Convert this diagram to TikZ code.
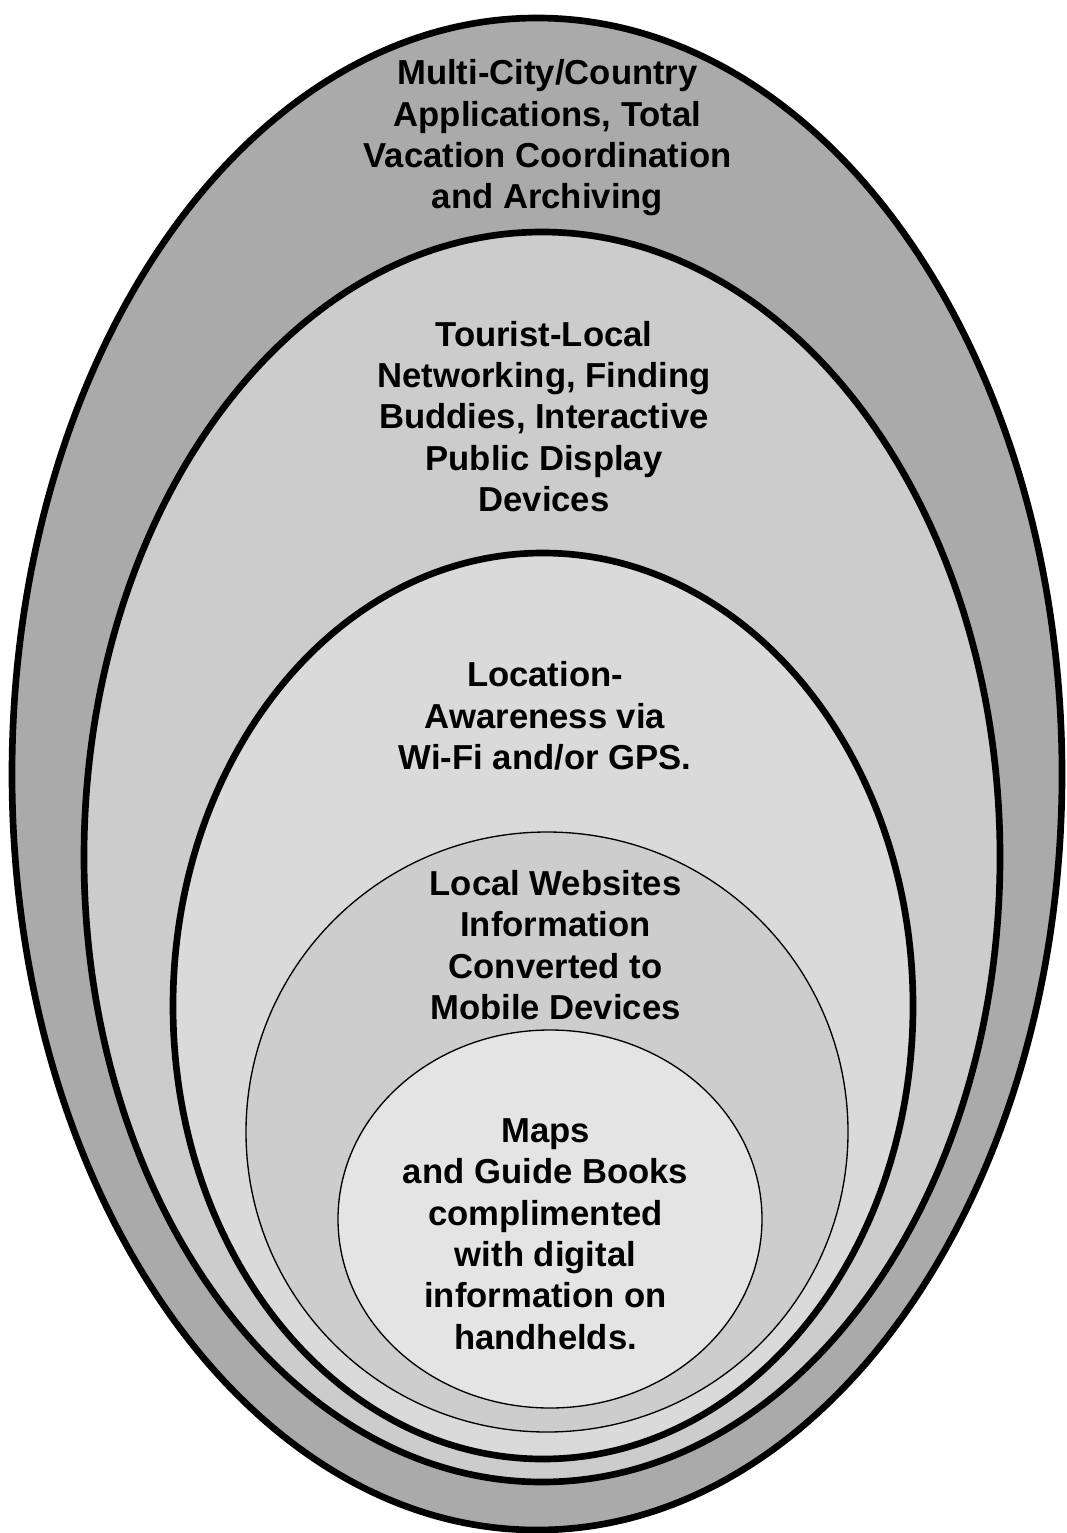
\documentclass[tikz,border=0pt]{standalone}
\usepackage{fontspec}
\setmainfont{Liberation Sans}

\tikzset{every picture/.style={line width=0.75pt}}
\tikzset{
  thickring/.style={color={rgb, 255:red, 0; green, 0; blue, 0 }, line width=5pt},
  thinring/.style={color={rgb, 255:red, 0; green, 0; blue, 0 }, line width=1pt},
  ringtext/.style={inner sep=0.75pt, align=center, font=\fontsize{26pt}{31pt}\selectfont\bfseries}
}

\begin{document}
\begin{tikzpicture}[x=0.75pt,y=0.75pt,yscale=-1,xscale=1]
\useasboundingbox (0,0) rectangle (1066,1533); %set diagram at 1066 x 1533

%Shape: Ellipse [outer ring]
\draw  [thickring][fill={rgb, 255:red, 170; green, 170; blue, 170 }  ,fill opacity=1 ] (12,774) .. controls (12,356.46) and (247.04,18) .. (537,18) .. controls (826.96,18) and (1062,356.46) .. (1062,774) .. controls (1062,1191.54) and (826.96,1530) .. (537,1530) .. controls (247.04,1530) and (12,1191.54) .. (12,774) -- cycle ;
%Shape: Ellipse [second ring]
\draw  [thickring][fill={rgb, 255:red, 204; green, 204; blue, 204 }  ,fill opacity=1 ] (84,857) .. controls (84,511.81) and (289.05,232) .. (542,232) .. controls (794.95,232) and (1000,511.81) .. (1000,857) .. controls (1000,1202.19) and (794.95,1482) .. (542,1482) .. controls (289.05,1482) and (84,1202.19) .. (84,857) -- cycle ;
%Shape: Ellipse [third ring]
\draw  [thickring][fill={rgb, 255:red, 218; green, 218; blue, 218 }  ,fill opacity=1 ] (173,1006) .. controls (173,755.81) and (338.65,553) .. (543,553) .. controls (747.35,553) and (913,755.81) .. (913,1006) .. controls (913,1256.19) and (747.35,1459) .. (543,1459) .. controls (338.65,1459) and (173,1256.19) .. (173,1006) -- cycle ;
%Shape: Ellipse [fourth ring]
\draw  [thinring][fill={rgb, 255:red, 205; green, 205; blue, 205 }  ,fill opacity=1 ] (246,1132) .. controls (246,966.31) and (380.76,832) .. (547,832) .. controls (713.24,832) and (848,966.31) .. (848,1132) .. controls (848,1297.69) and (713.24,1432) .. (547,1432) .. controls (380.76,1432) and (246,1297.69) .. (246,1132) -- cycle ;
%Shape: Ellipse [core]
\draw  [thinring][fill={rgb, 255:red, 228; green, 228; blue, 228 }  ,fill opacity=1 ] (338,1219) .. controls (338,1114.62) and (432.91,1030) .. (550,1030) .. controls (667.09,1030) and (762,1114.62) .. (762,1219) .. controls (762,1323.38) and (667.09,1408) .. (550,1408) .. controls (432.91,1408) and (338,1323.38) .. (338,1219) -- cycle ;

% Text Node
\draw (547.5,138) node (multicity) [ringtext] {Multi-City/Country\\Applications, Total\\Vacation Coordination\\and Archiving};
% Text Node
\draw (544,416.5) node (touristlocal) [ringtext] {Tourist-Local\\Networking, Finding\\Buddies, Interactive\\Public Display\\Devices};
% Text Node
\draw (545,716) node (location) [ringtext] {Location-\\Awareness via\\Wi-Fi and/or GPS.};
% Text Node
\draw (555.5,945) node (websites) [ringtext] {Local Websites\\Information\\Converted to\\Mobile Devices};
% Text Node
\draw (545.5,1234) node (maps) [ringtext] {Maps\\and Guide Books\\complimented\\with digital\\information on\\handhelds.};

\end{tikzpicture}
\end{document}
